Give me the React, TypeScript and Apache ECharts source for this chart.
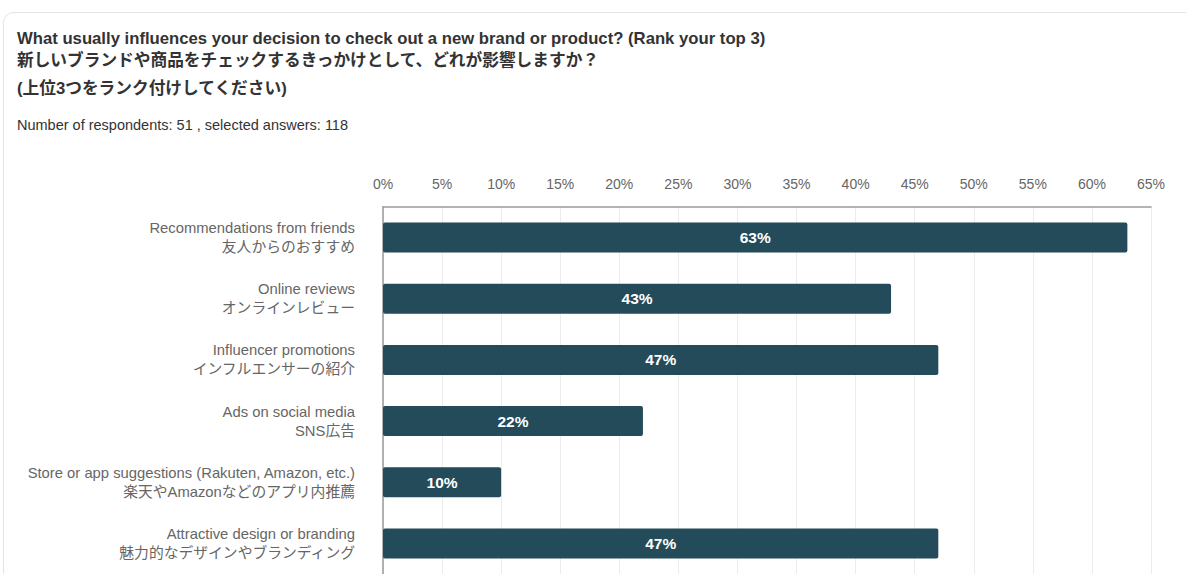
import React, { useEffect, useRef } from "react";
import * as echarts from "echarts";

const categoriesEn = [
  "Recommendations from friends",
  "Online reviews",
  "Influencer promotions",
  "Ads on social media",
  "Store or app suggestions (Rakuten, Amazon, etc.)",
  "Attractive design or branding",
];
const categoriesJa = [
  "友人からのおすすめ",
  "オンラインレビュー",
  "インフルエンサーの紹介",
  "SNS広告",
  "楽天やAmazonなどのアプリ内推薦",
  "魅力的なデザインやブランディング",
];
const values = [63, 43, 47, 22, 10, 47];

const titleLine1 = "What usually influences your decision to check out a new brand or product? (Rank your top 3)";
const titleLine2 = "新しいブランドや商品をチェックするきっかけとして、どれが影響しますか？";
const titleLine3 = "(上位3つをランク付けしてください)";
const subtitleText = "Number of respondents: 51 , selected answers: 118";

const FONT = "'Liberation Sans', Arial, 'Noto Sans CJK JP', sans-serif";

export default function App() {
  const ref = useRef<HTMLDivElement>(null);
  useEffect(() => {
    if (!ref.current) return;
    const chart = echarts.init(ref.current, undefined, { renderer: "svg" });
    const categories = categoriesEn.map((en, i) => en + "\n" + categoriesJa[i]);
    const titleStyle = { fontFamily: FONT, fontSize: 16.7, fontWeight: "bold", color: "#333333", lineHeight: 20 };
    chart.setOption({
      animation: false,
      backgroundColor: "#ffffff",
      textStyle: { fontFamily: FONT },
      graphic: [
        {
          type: "rect",
          z: -10,
          shape: { x: 3.5, y: 12.5, width: 1300, height: 700, r: 10 },
          style: { fill: "#ffffff", stroke: "#e3e3e3", lineWidth: 1 },
          silent: true,
        },
      ],
      title: [
        { text: titleLine1, left: 17, top: 28, padding: 0, textStyle: titleStyle },
        { text: titleLine2, left: 17, top: 50, padding: 0, textStyle: titleStyle },
        { text: titleLine3, left: 17, top: 78, padding: 0, textStyle: titleStyle },
        {
          text: subtitleText,
          left: 17,
          top: 117,
          padding: 0,
          textStyle: { fontFamily: FONT, fontSize: 14.5, fontWeight: "normal", color: "#333333", lineHeight: 16 },
        },
      ],
      grid: { left: 383, right: 35, top: 207, bottom: -1, containLabel: false },
      xAxis: {
        type: "value",
        position: "top",
        min: 0,
        max: 65,
        interval: 5,
        axisLine: { show: true, lineStyle: { color: "#9a9a9a", width: 1.5 } },
        axisTick: { show: false },
        axisLabel: {
          formatter: "{value}%",
          color: "#666666",
          fontSize: 14,
          fontFamily: FONT,
          margin: 16,
        },
        splitLine: { show: true, lineStyle: { color: "#ececec", width: 1 } },
      },
      yAxis: {
        type: "category",
        inverse: true,
        data: categories,
        axisLine: { show: true, lineStyle: { color: "#9a9a9a", width: 1.5 } },
        axisTick: { show: false },
        axisLabel: {
          color: "#666666",
          fontSize: 14.8,
          fontFamily: FONT,
          lineHeight: 19,
          margin: 28,
          align: "right",
          padding: [0, 0, 8, 0],
        },
        splitLine: { show: false },
      },
      series: [
        {
          type: "bar",
          data: values,
          barWidth: 30,
          itemStyle: { color: "#234b5a", borderRadius: 2 },
          label: {
            show: true,
            position: "inside",
            formatter: "{c}%",
            color: "#ffffff",
            fontWeight: "bold",
            fontSize: 15.5,
            fontFamily: FONT,
          },
        },
      ],
    });
    return () => chart.dispose();
  }, []);
  return (
    <div
      ref={ref}
      style={{ position: "absolute", left: 0, top: 0, width: 1186, height: 574 }}
    />
  );
}
